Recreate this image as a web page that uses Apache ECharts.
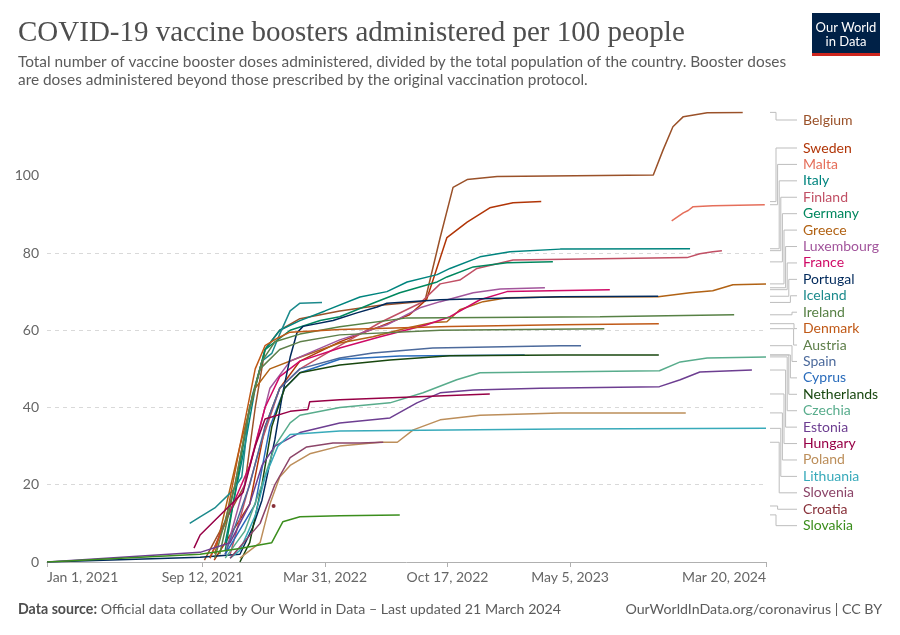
<!DOCTYPE html>
<html><head><meta charset="utf-8">
<script src="https://cdn.jsdelivr.net/npm/echarts@6/dist/echarts.min.js"></script>
<style>html,body{margin:0;padding:0;background:#fff}#c{width:900px;height:635px}</style>
</head><body><div id="c"></div><script>
// ---- Data ----
const countries = ['Belgium','Sweden','Malta','Italy','Finland','Germany','Greece','Luxembourg','France','Portugal','Iceland','Ireland','Denmark','Austria','Spain','Cyprus','Netherlands','Czechia','Estonia','Hungary','Poland','Lithuania','Slovenia','Croatia','Slovakia'];
const colors = ['#9A5129','#B13507','#E56E5A','#00847E','#C15065','#00875E','#B16214','#A2559C','#CF0A66','#00295B','#1C8A8C','#578145','#C05917','#5E7F4A','#4C6A9C','#286BBB','#18470F','#58AC8C','#6D3E91','#970046','#BC8E5A','#38AABA','#8C4569','#883039','#3B8E1D'];
const xTickDates = ['2021-01-01','2021-09-12','2022-03-31','2022-10-17','2023-05-05','2024-03-20'];
const yTickValues = [0,20,40,60,80,100];

const belgium = [['2021-09-15',0.5],['2021-11-20',20],['2021-12-07',40],['2021-12-23',55],['2022-01-16',60],['2022-02-18',63],['2022-04-24',65],['2022-06-29',66.5],['2022-09-10',67.5],['2022-10-05',84],['2022-10-26',97],['2022-11-18',99],['2023-01-06',99.8],['2023-09-18',100.2],['2023-10-04',106.7],['2023-10-20',112.7],['2023-11-06',115.3],['2023-12-15',116.3],['2024-02-11',116.4]];
const sweden = [['2021-10-01',0.5],['2021-11-28',15],['2021-12-23',35],['2022-01-16',45],['2022-02-18',52],['2022-04-24',57],['2022-06-29',61],['2022-08-16',64],['2022-09-13',68],['2022-10-16',84],['2022-11-18',88],['2022-12-25',91.7],['2023-02-01',93],['2023-03-19',93.3]];
const malta = [['2023-10-18',88.3],['2023-11-06',90.4],['2023-11-14',91],['2023-11-22',92],['2023-12-24',92.2],['2024-03-18',92.5]];
const italy = [['2021-10-19',5],['2021-11-20',30],['2021-12-07',45],['2021-12-23',55],['2022-01-16',60],['2022-02-18',62.5],['2022-03-31',65],['2022-05-27',68.6],['2022-07-10',70],['2022-08-12',72.5],['2022-09-30',74.4],['2022-10-21',76],['2022-12-09',79],['2023-01-27',80.3],['2023-04-19',81],['2023-11-17',81.1]];
const finland = [['2021-10-27',2],['2021-12-15',30],['2022-01-16',45],['2022-02-18',50],['2022-04-24',56],['2022-06-29',62],['2022-09-02',67],['2022-10-05',72],['2022-11-06',73],['2022-12-04',76],['2023-02-01',78.2],['2023-11-12',78.8],['2023-12-03',79.8],['2023-12-24',80.3],['2024-01-08',80.6]];
const germany = [['2021-10-19',3],['2021-11-28',40],['2021-12-23',55],['2022-02-02',60],['2022-03-23',62.5],['2022-04-24',63.5],['2022-06-17',67],['2022-07-31',69.7],['2022-09-30',72.5],['2022-10-16',73.8],['2022-11-28',76.4],['2023-01-22',77.5],['2023-04-07',77.7]];
const greece = [['2021-10-02',2],['2021-11-12',30],['2021-12-07',45],['2021-12-31',50],['2022-02-18',53],['2022-04-24',56.7],['2022-06-17',58.3],['2022-08-12',60.6],['2022-09-23',62],['2022-10-16',62.2],['2022-11-06',65.3],['2022-12-14',67.4],['2023-01-22',68.4],['2023-04-19',68.6],['2023-09-26',68.7],['2023-11-17',69.7],['2023-12-24',70.2],['2024-01-26',71.8],['2024-03-20',72]];
const luxembourg = [['2021-10-19',2],['2021-12-07',30],['2021-12-31',45],['2022-02-02',52],['2022-04-24',57.5],['2022-07-10',61.4],['2022-09-02',65.8],['2022-10-05',67.4],['2022-11-28',69.7],['2023-01-11',70.7],['2023-03-25',71]];
const france = [['2021-09-24',1],['2021-11-28',25],['2021-12-23',40],['2022-01-16',48],['2022-02-18',52],['2022-04-24',55.4],['2022-06-29',58.3],['2022-09-13',61.4],['2022-10-21',63.5],['2022-12-09',67.9],['2023-01-22',70],['2023-07-09',70.5]];
const portugal = [['2021-01-01',0],['2021-09-08',1.2],['2021-11-12',2],['2021-12-03',9],['2021-12-18',16],['2022-01-08',31.6],['2022-01-20',43],['2022-02-02',53],['2022-02-13',59.3],['2022-02-23',61],['2022-04-13',62.5],['2022-05-22',64.5],['2022-06-24',66],['2022-07-10',67],['2022-10-05',67.9],['2023-04-19',68.7],['2023-09-26',68.8]];
const iceland = [['2021-08-22',10],['2021-09-08',11.7],['2021-10-02',14],['2021-11-01',18.6],['2021-11-15',22],['2021-11-20',29],['2021-11-25',37],['2021-12-02',43],['2021-12-18',52],['2022-01-03',54],['2022-01-16',59],['2022-02-02',65],['2022-02-18',67],['2022-03-26',67.2]];
const ireland = [['2021-10-10',2],['2021-11-04',20],['2021-11-28',40],['2021-12-18',52],['2022-01-08',57],['2022-02-18',59],['2022-04-24',60.9],['2022-08-12',63.2],['2023-06-23',63.5],['2024-01-28',64]];
const denmark = [['2021-09-24',1],['2021-10-19',10],['2021-11-12',30],['2021-12-07',50],['2021-12-23',56],['2022-01-13',58],['2022-02-02',59.5],['2022-04-24',60.2],['2022-10-21',61],['2023-04-19',61.4],['2023-09-27',61.7]];
const austria = [['2021-10-02',1],['2021-11-04',20],['2021-11-28',40],['2021-12-15',50],['2022-01-16',55],['2022-02-18',57],['2022-04-24',58.8],['2022-10-05',60],['2023-06-30',60.4]];
const spain = [['2021-10-19',2],['2021-11-28',20],['2021-12-23',35],['2022-01-16',45],['2022-02-18',50],['2022-04-24',52.8],['2022-06-17',54.1],['2022-09-23',55.4],['2023-04-19',56],['2023-05-23',56]];
const cyprus = [['2021-10-19',2],['2021-12-07',15],['2021-12-31',35],['2022-01-24',45],['2022-02-18',49],['2022-04-24',52.5],['2022-07-31',53.3],['2023-02-20',53.6]];
const netherlands = [['2021-11-12',0],['2021-11-28',5],['2021-12-18',20],['2022-01-03',35],['2022-01-24',45],['2022-02-18',49],['2022-04-24',51],['2022-07-15',52.3],['2022-10-21',53.4],['2023-04-19',53.6],['2023-09-27',53.6]];
const czechia = [['2021-10-19',1],['2021-11-20',8],['2021-12-18',20],['2022-01-08',30],['2022-02-02',36],['2022-02-18',38],['2022-04-24',40],['2022-07-15',41.2],['2022-09-07',43.8],['2022-11-01',47.2],['2022-12-09',49],['2023-09-28',49.5],['2023-11-01',51.8],['2023-12-15',52.8],['2024-03-20',53.1]];
const estonia = [['2021-01-01',0],['2021-09-08',2.5],['2021-10-27',5],['2021-11-28',15],['2021-12-18',25],['2022-01-08',30],['2022-02-18',33.5],['2022-04-24',36],['2022-07-15',37.3],['2022-08-28',41.2],['2022-10-05',43.8],['2022-11-28',44.5],['2023-03-17',45],['2023-09-28',45.4],['2023-11-01',47.2],['2023-12-03',49.2],['2024-02-26',49.7]];
const hungary = [['2021-08-29',3.6],['2021-09-08',7],['2021-11-17',18],['2021-12-07',30],['2021-12-23',37],['2022-02-02',39],['2022-03-03',39.5],['2022-03-06',41.5],['2022-04-24',42],['2022-12-25',43.5]];
const poland = [['2021-11-12',1],['2021-12-15',5],['2021-12-31',15],['2022-01-16',22],['2022-02-02',25],['2022-03-06',28],['2022-04-24',30],['2022-06-29',31],['2022-07-27',31],['2022-08-22',34.2],['2022-10-05',36.8],['2022-12-09',38],['2023-04-19',38.6],['2023-11-10',38.6]];
const lithuania = [['2021-10-27',1],['2021-11-12',3],['2021-12-07',12],['2021-12-23',22],['2022-01-13',30],['2022-02-02',33],['2022-04-24',33.9],['2023-04-19',34.4],['2024-03-20',34.6]];
const slovenia = [['2021-10-27',1],['2021-12-15',10],['2022-01-08',20],['2022-02-02',27],['2022-03-01',29.8],['2022-04-13',30.8],['2022-05-27',30.8],['2022-07-04',31]];
const croatia = [['2022-01-06',14.5]];
const slovakia = [['2021-01-01',0],['2021-09-08',2],['2021-11-12',3.5],['2022-01-03',5],['2022-01-21',10.4],['2022-02-18',11.7],['2022-04-24',12],['2022-07-31',12.2]];

const dataByName = {Belgium:belgium,Sweden:sweden,Malta:malta,Italy:italy,Finland:finland,Germany:germany,Greece:greece,Luxembourg:luxembourg,France:france,Portugal:portugal,Iceland:iceland,Ireland:ireland,Denmark:denmark,Austria:austria,Spain:spain,Cyprus:cyprus,Netherlands:netherlands,Czechia:czechia,Estonia:estonia,Hungary:hungary,Poland:poland,Lithuania:lithuania,Slovenia:slovenia,Croatia:croatia,Slovakia:slovakia};

// ---- helpers ----
function t(s){const p=s.split('-').map(Number);return Date.UTC(p[0],p[1]-1,p[2]);}
const MONTHS=['Jan','Feb','Mar','Apr','May','Jun','Jul','Aug','Sep','Oct','Nov','Dec'];
function fmtDate(v){const d=new Date(v);return MONTHS[d.getUTCMonth()]+' '+d.getUTCDate()+', '+d.getUTCFullYear();}

const chart = echarts.init(document.getElementById('c'), null, {renderer:'canvas'});
const FONT = 'Lato, "Noto Sans", sans-serif';
const xTicks = xTickDates.map(t);

chart.setOption({
  animation:false,
  backgroundColor:'#fff',
  grid:{left:47, right:134, top:112, bottom:73, containLabel:false},
  xAxis:{
    type:'value', min:t('2021-01-01'), max:t('2024-03-20'),
    axisLine:{show:true, onZero:false, lineStyle:{color:'#b0b0b0', width:1}},
    axisTick:{show:true, customValues:xTicks, length:5, lineStyle:{color:'#b0b0b0'}},
    axisLabel:{customValues:xTicks, formatter:fmtDate, color:'#666', fontSize:14, fontFamily:FONT, margin:8, alignMinLabel:'left', alignMaxLabel:'right', showMinLabel:true, showMaxLabel:true, hideOverlap:false},
    splitLine:{show:false}
  },
  yAxis:{
    type:'value', min:0, max:116.5,
    axisLine:{show:false}, axisTick:{show:false, customValues:yTickValues},
    axisLabel:{customValues:yTickValues, color:'#666', fontSize:14, fontFamily:FONT, margin:8},
    splitLine:{show:true, showMinLine:false, showMaxLine:false, lineStyle:{color:'#d9d9d9', type:[4,4], width:1}}
  },
  series: countries.map((name,i)=>({
    name:name, type:'line', data:dataByName[name].map(d=>[t(d[0]),d[1]]),
    showSymbol: name==='Croatia', symbol:'circle', symbolSize:4,
    lineStyle:{width:1.5, color:colors[i]}, itemStyle:{color:colors[i]},
    emphasis:{disabled:true}, silent:true
  }))
});

// ---- texts, logo, labels with connectors ----
const g = [];
g.push({type:'text', left:18, top:19, style:{text:'COVID-19 vaccine boosters administered per 100 people', fill:'#4e4e4e', font:'29px "Liberation Serif", "DejaVu Serif", serif'}});
g.push({type:'text', left:18, top:53, style:{text:'Total number of vaccine booster doses administered, divided by the total population of the country. Booster doses\nare doses administered beyond those prescribed by the original vaccination protocol.', fill:'#5b5b5b', font:'15.4px '+FONT, lineHeight:18}});
g.push({type:'rect', shape:{x:812, y:13, width:68, height:43}, style:{fill:'#002147'}});
g.push({type:'rect', shape:{x:812, y:53, width:68, height:3}, style:{fill:'#ce261e'}});
g.push({type:'text', x:846, y:28, style:{text:'Our World', fill:'#fff', font:'13px '+FONT, align:'center', verticalAlign:'middle'}});
g.push({type:'text', x:846, y:42, style:{text:'in Data', fill:'#fff', font:'13px '+FONT, align:'center', verticalAlign:'middle'}});
g.push({type:'text', x:18, y:609, style:{text:'{b|Data source:} Official data collated by Our World in Data – Last updated 21 March 2024', fill:'#5b5b5b', font:'14.2px '+FONT, verticalAlign:'middle', rich:{b:{fontWeight:'bold', fontSize:14.2, fontFamily:FONT, fill:'#4e4e4e'}}}});
g.push({type:'text', x:882, y:609, style:{text:'OurWorldInData.org/coronavirus | CC BY', fill:'#5b5b5b', font:'14.2px '+FONT, align:'right', verticalAlign:'middle'}});

const info = countries.map((name,i)=>{
  const d = dataByName[name]; const last = d[d.length-1];
  const py = chart.convertToPixel({gridIndex:0}, [t(last[0]), last[1]])[1];
  const ly = i===0 ? 120 : 148 + (i-1)*16.42;
  return {name, i, py, ly, dir: ly < py ? -1 : 1};
});
let runStart = 0;
for (let k=1;k<=info.length;k++){
  if (k===info.length || info[k].dir !== info[runStart].dir){
    const run = info.slice(runStart,k);
    const n = run.length;
    run.forEach((it,j)=>{
      const rank = it.dir<0 ? j : (n-1-j);
      it.xm = Math.min(794, 776 + rank*1.6);
    });
    runStart = k;
  }
}
info.forEach(it=>{
  g.push({type:'polyline', silent:true, shape:{points:[[770,it.py],[it.xm,it.py],[it.xm,it.ly],[797,it.ly]]}, style:{stroke:'#bdbdbd', fill:null, lineWidth:1}});
  g.push({type:'text', x:803, y:it.ly, style:{text:it.name, fill:colors[it.i], font:'14px '+FONT, verticalAlign:'middle'}});
});
chart.setOption({graphic:g});
</script></body></html>
